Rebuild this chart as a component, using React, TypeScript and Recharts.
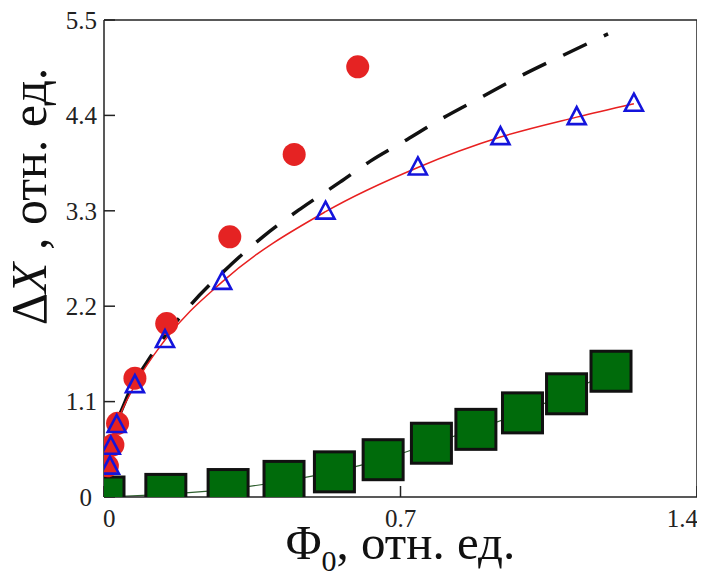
import {
  ComposedChart,
  Line,
  Scatter,
  XAxis,
  YAxis,
  Label
} from 'recharts'

// red circles
const circleX = [0.008, 0.021, 0.032, 0.073, 0.148, 0.297, 0.449, 0.599]
const circleY = [0.36, 0.6, 0.85, 1.37, 2.0, 3.0, 3.95, 4.96]

// blue open triangles (red fit line goes through them)
const triX = [0.014, 0.016, 0.03, 0.073, 0.144, 0.279, 0.523, 0.741, 0.936, 1.116, 1.251]
const triY = [0.35, 0.58, 0.83, 1.29, 1.81, 2.48, 3.29, 3.8, 4.15, 4.38, 4.535]

// black dashed curve
const dashX = [0.008, 0.02, 0.05, 0.113, 0.2, 0.3, 0.375, 0.463, 0.557, 0.628, 0.715, 0.8, 0.895, 0.982, 1.074, 1.19]
const dashY = [0.42, 0.69, 1.1, 1.64, 2.19, 2.68, 3.0, 3.32, 3.63, 3.87, 4.12, 4.37, 4.62, 4.85, 5.07, 5.34]

// green squares
const sqX = [0, 0.146, 0.293, 0.425, 0.544, 0.659, 0.773, 0.878, 0.988, 1.092, 1.197]
const sqY = [0.0, 0.03, 0.086, 0.18, 0.29, 0.43, 0.62, 0.78, 0.97, 1.19, 1.45]

const xTicks = [0, 0.7, 1.4]
const yTicks = [0, 1.1, 2.2, 3.3, 4.4, 5.5]

const zip = (xs: number[], ys: number[]) => xs.map((x, i) => ({ x, y: ys[i] }))
const circles = zip(circleX, circleY)
const triangles = zip(triX, triY)
const dashed = zip(dashX, dashY)
const squares = zip(sqX, sqY)

const FONT = "'Liberation Serif', 'Times New Roman', 'DejaVu Serif', serif"
const AXIS = '#222'

const XTick = (props: any) => {
  const { x, y, payload, index } = props
  const last = index === xTicks.length - 1
  const anchor = index === 0 ? 'start' : last ? 'end' : 'middle'
  const dx = index === 0 ? -1 : last ? 3 : 0
  return (
    <text x={x + dx} y={y} dy="0.71em" textAnchor={anchor} style={{ fontFamily: FONT, fontSize: 25 }} fill="#222">
      {payload.value}
    </text>
  )
}

const YTick = (props: any) => {
  const { x, y, payload } = props
  const dx = payload.value === 0 ? -5 : 0
  return (
    <text x={x + dx} y={y} dy="0.355em" textAnchor="end" style={{ fontFamily: FONT, fontSize: 25 }} fill="#222">
      {payload.value}
    </text>
  )
}

const Triangle = (props: any) => {
  const { cx, cy } = props
  return (
    <path
      d={`M${cx},${cy - 10} L${cx + 9},${cy + 7} L${cx - 9},${cy + 7} Z`}
      fill="none"
      stroke="#1414dc"
      strokeWidth={2.6}
    />
  )
}

const Square = (props: any) => {
  const { cx, cy } = props
  return <rect x={cx - 20} y={cy - 20} width={40} height={40} fill="#006b0b" stroke="#111" strokeWidth={3} />
}

const Circle = (props: any) => {
  const { cx, cy } = props
  return <circle cx={cx} cy={cy} r={11.5} fill="#e52323" />
}

export default function App() {
  return (
    <ComposedChart width={697} height={563} margin={{ top: 11, right: 7, bottom: 0, left: 36 }}>
      <XAxis
        dataKey="x"
        type="number"
        domain={[0, 1.4]}
        ticks={xTicks}
        allowDataOverflow
        height={74}
        stroke={AXIS}
        strokeWidth={1.5}
        tickSize={-11}
        tickMargin={23}
        tick={<XTick />}
      >
        <Label
          content={(p: any) => {
            const vb = p.viewBox
            const cx = vb.x + vb.width / 2
            const y = vb.y + 62
            return (
              <text x={cx} y={y} textAnchor="middle" style={{ fontFamily: FONT, fontSize: 49 }} fill="#111">
                Φ<tspan style={{ fontSize: 30 }} dy={12}>0</tspan>
                <tspan dy={-12}>, отн. ед.</tspan>
              </text>
            )
          }}
        />
      </XAxis>
      <XAxis
        xAxisId="top"
        orientation="top"
        type="number"
        domain={[0, 1.4]}
        ticks={xTicks}
        height={1}
        stroke={AXIS}
        strokeWidth={1.5}
        tickSize={-11}
        tick={() => null}
      />
      <YAxis
        type="number"
        domain={[0, 5.5]}
        ticks={yTicks}
        allowDataOverflow
        width={60}
        stroke={AXIS}
        strokeWidth={1.5}
        tickSize={-11}
        tickMargin={18}
        tick={<YTick />}
      >
        <Label
          content={(p: any) => {
            const vb = p.viewBox
            const x = vb.x + 2
            const y = vb.y + vb.height * 0.37
            return (
              <text
                x={x}
                y={y}
                transform={`rotate(-90, ${x}, ${y})`}
                textAnchor="middle"
                style={{ fontFamily: FONT, fontSize: 50 }}
                fill="#111"
              >
                Δ<tspan style={{ fontStyle: 'italic' }}>X</tspan> , отн. ед.
              </text>
            )
          }}
        />
      </YAxis>
      <YAxis
        yAxisId="right"
        orientation="right"
        type="number"
        domain={[0, 5.5]}
        ticks={yTicks}
        width={1}
        stroke={AXIS}
        strokeWidth={1.5}
        tickSize={-11}
        tick={() => null}
      />

      <Line
        data={squares}
        dataKey="y"
        type="linear"
        stroke="#2f5f2f"
        strokeWidth={1.2}
        dot={false}
        isAnimationActive={false}
      />
      <Scatter data={squares} dataKey="y" shape={<Square />} isAnimationActive={false} />
      <Line
        data={dashed}
        dataKey="y"
        type="monotone"
        stroke="#111"
        strokeWidth={3.5}
        strokeDasharray="26 19"
        dot={false}
        isAnimationActive={false}
      />
      <Line
        data={triangles}
        dataKey="y"
        type="monotone"
        stroke="#e82020"
        strokeWidth={1.5}
        dot={false}
        isAnimationActive={false}
      />
      <Scatter data={circles} dataKey="y" shape={<Circle />} isAnimationActive={false} />
      <Scatter data={triangles} dataKey="y" shape={<Triangle />} isAnimationActive={false} />
    </ComposedChart>
  )
}
